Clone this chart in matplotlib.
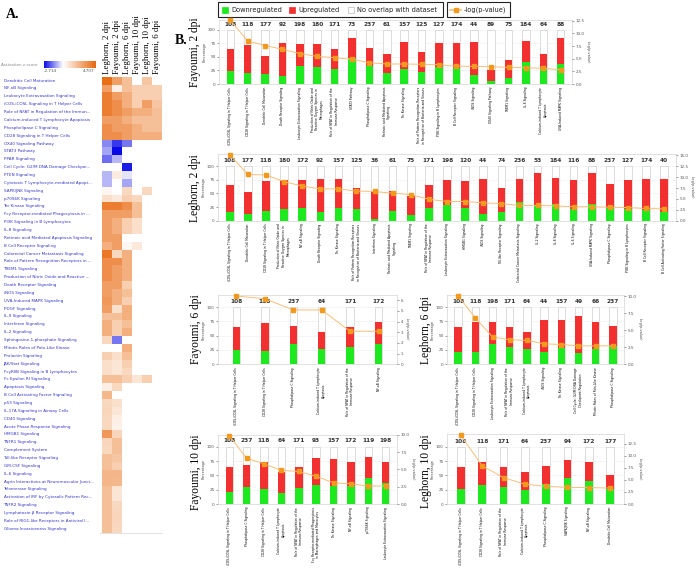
import numpy as np
import matplotlib
matplotlib.use("Agg")
import matplotlib.pyplot as plt
from matplotlib.colors import LinearSegmentedColormap, Normalize
from matplotlib.patches import Rectangle
from matplotlib import transforms

nan = np.nan

# ---------------- panel A data: activation z-scores ----------------
pathways = [
    "Dendritic Cell Maturation", "NF-κB Signaling", "Leukocyte Extravasation Signaling",
    "iCOS-iCOSL Signaling in T Helper Cells", "Role of NFAT in Regulation of the Immun...",
    "Calcium-induced T Lymphocyte Apoptosis", "Phospholipase C Signaling",
    "CD28 Signaling in T Helper Cells", "OX40 Signaling Pathway", "STAT3 Pathway",
    "PPAR Signaling", "Cell Cycle: G2/M DNA Damage Checkpoi...", "PTEN Signaling",
    "Cytotoxic T Lymphocyte-mediated Apopt...", "SAPK/JNK Signaling", "p70S6K Signaling",
    "Tec Kinase Signaling", "Fcγ Receptor-mediated Phagocytosis in ...",
    "PI3K Signaling in B Lymphocytes", "IL-8 Signaling",
    "Retinoic acid Mediated Apoptosis Signaling", "B Cell Receptor Signaling",
    "Colorectal Cancer Metastasis Signaling", "Role of Pattern Recognition Receptors in ...",
    "TREM1 Signaling", "Production of Nitric Oxide and Reactive ...",
    "Death Receptor Signaling", "iNOS Signaling", "UVA-Induced MAPK Signaling",
    "PDGF Signaling", "IL-9 Signaling", "Interferon Signaling", "IL-2 Signaling",
    "Sphingosine-1-phosphate Signaling", "Mitotic Roles of Polo-Like Kinase",
    "Prolactin Signaling", "JAK/Stat Signaling", "FcγRIIB Signaling in B Lymphocytes",
    "Fc Epsilon RI Signaling", "Apoptosis Signaling", "B Cell Activating Factor Signaling",
    "p53 Signaling", "IL-17A Signaling in Airway Cells", "CD40 Signaling",
    "Acute Phase Response Signaling", "HMGB1 Signaling", "TNFR1 Signaling",
    "Complement System", "Toll-like Receptor Signaling", "GM-CSF Signaling",
    "IL-6 Signaling", "Agrin Interactions at Neuromuscular Junct...",
    "Telomerase Signaling", "Activation of IRF by Cytosolic Pattern Rec...",
    "TNFR2 Signaling", "Lymphotoxin β Receptor Signaling",
    "Role of RIG1-like Receptors in Antiviral I...", "Glioma Invasiveness Signaling",
]
conditions = ["Leghorn, 2 dpi", "Fayoumi, 2 dpi", "Leghorn, 6 dpi",
              "Fayoumi, 10 dpi", "Leghorn, 10 dpi", "Fayoumi, 6 dpi"]

z_leg2 = [4.5, 3.0, 4.0, 4.0, 4.0, 3.0, 3.5, 3.5, -1.3, -1.0, -1.6, nan, -0.8, -0.8,
          0.3, 1.0, 4.0, 3.0, 3.0, 3.0, 3.0, 2.5, 4.2, 3.5, 3.5, 3.5, 3.0, 3.0, 3.2,
          3.0, 2.0, 2.5, 2.5, 1.2, nan, 1.5, 1.0, 1.0, 2.0, 0.5, 2.2, 1.2, 1.3, 1.2,
          1.2, 3.2, 1.3, 1.2, 2.0, 2.0, 2.3, 2.3, 2.0, 2.0, 2.0, 2.0, 2.0, 2.0]
z_fay2 = [3.0, 0.5, 3.0, 3.5, 3.5, 3.0, 3.0, 3.5, -2.2, -2.7, -0.8, nan, 0.6, nan,
          nan, 0.7, 4.0, 3.0, 2.5, 2.5, 3.0, 3.0, 1.2, 3.5, 3.0, 3.0, 3.0, 2.5, 2.5,
          1.0, 2.0, 1.5, 1.5, -1.5, nan, 1.0, 0.8, 0.8, 2.0, 1.2, nan, 1.0, 0.8, 0.5,
          0.4, 1.3, 2.0, 2.0, 1.8, 1.5, 2.3, 2.2, 0.8, 0.8, 1.2, 1.3, 1.3, 1.2]
z_leg6 = [2.0, 2.0, 2.5, 2.5, 3.0, 2.5, 3.0, 3.0, -1.5, nan, nan, -2.5, -0.3, -1.0,
          1.2, 1.5, 3.5, 3.0, 1.5, 1.5, nan, 0.3, 2.5, 2.5, 2.5, 2.5, 1.5, 2.0, 1.5,
          2.5, 2.5, 2.0, 2.5, nan, 2.5, 2.0, 1.5, 1.2, 1.5] + [nan] * 19
z_fay10 = [nan, 1.5, 1.5, 1.5, 2.5, 2.0, 2.5, 2.5] + [nan] * 7 + \
          [1.2, 2.0, 2.0, 1.0, 1.0, nan, 0.7] + [nan] * 16 + [0.8] + [nan] * 19
z_leg10 = [1.8, 1.5, 1.5, 3.0, 2.5, 2.0, 2.0, 2.5] + [nan] * 6 + [1.2] + \
          [nan] * 23 + [1.5] + [nan] * 19
z_fay6 = [nan, 1.5, 1.5, 1.8, 2.0, 2.0, 2.0, 2.5] + [nan] * 50

# ---------------- panel B data ----------------
NO_ROS = "Production of Nitric Oxide and\nReactive Oxygen Species in\nMacrophages"
NFAT = "Role of NFAT in Regulation of the\nImmune Response"
PRR = "Role of Pattern Recognition Receptors\nin Recognition of Bacteria and Viruses"
RETINOIC = "Retinoic acid Mediated Apoptosis\nSignaling"
CALCIUM = "Calcium-induced T Lymphocyte\nApoptosis"
CELLCYCLE = "Cell Cycle: G2/M DNA Damage\nCheckpoint Regulation"
FCGR = "Fcγ Receptor-mediated Phagocytosis\nin Macrophages and Monocytes"
ICOS = "iCOS-iCOSL Signaling in T Helper Cells"
CD28 = "CD28 Signaling in T Helper Cells"

fay2_names = [ICOS, CD28, "Dendritic Cell Maturation", "Death Receptor Signaling",
              "Leukocyte Extravasation Signaling", NO_ROS, NFAT, "STAT3 Pathway",
              "Phospholipase C Signaling", RETINOIC, "Tec Kinase Signaling", PRR,
              "PI3K Signaling in B Lymphocytes", "B Cell Receptor Signaling",
              "iNOS Signaling", "OX40 Signaling Pathway", "TREM1 Signaling",
              "IL-8 Signaling", CALCIUM, "UVA-Induced MAPK Signaling"]
fay2_counts = [108, 118, 177, 92, 198, 180, 171, 73, 237, 61, 157, 125, 127, 174, 44,
               89, 75, 184, 64, 88]
fay2_down = [23.5, 20, 18.5, 15, 34, 31, 28, 47.5, 34, 20, 27, 22, 31, 30, 16, 5, 12,
             41, 27, 37]
fay2_up = [41.5, 52, 33.5, 61, 40, 42.5, 37, 38.5, 33, 36, 51, 37, 44, 46, 61, 21, 33,
           39, 29, 49]
fay2_logp = [12.6, 8.5, 7.6, 6.85, 6.0, 5.45, 5.2, 4.87, 4.2, 3.95, 3.95, 3.9, 3.8,
             3.5, 3.5, 3.4, 3.3, 3.2, 3.1, 2.8]

leg2_names = [ICOS, "Dendritic Cell Maturation", CD28, NO_ROS, "NF-κB Signaling",
              "Death Receptor Signaling", "Tec Kinase Signaling", PRR,
              "Interferon Signaling", RETINOIC, "TREM1 Signaling", NFAT,
              "Leukocyte Extravasation Signaling", "HMGB1 Signaling", "iNOS Signaling",
              "Toll-like Receptor Signaling", "Colorectal Cancer Metastasis Signaling",
              "IL-2 Signaling", "IL-8 Signaling", "IL-6 Signaling",
              "UVA-Induced MAPK Signaling", "Phospholipase C Signaling",
              "PI3K Signaling in B Lymphocytes", "B Cell Receptor Signaling",
              "B Cell Activating Factor Signaling"]
leg2_counts = [108, 177, 118, 180, 172, 92, 157, 125, 36, 61, 75, 171, 198, 120, 44,
               74, 236, 53, 184, 116, 88, 237, 127, 174, 40]
leg2_down = [16.5, 12, 18, 21, 24, 16, 24, 21, 3, 18, 10, 24, 28, 24, 12, 15, 34, 28,
             30, 21, 30, 23, 21, 19, 15]
leg2_up = [48.5, 40, 54, 53, 50, 60, 53, 39, 52, 36, 36, 41, 46, 48, 65, 44, 42, 59,
           49, 53, 57, 44, 53, 57, 62]
leg2_logp = [15.1, 10.6, 10.5, 8.95, 7.96, 7.3, 7.3, 6.8, 6.7, 6.3, 6.0, 4.9, 4.4,
             4.4, 4.1, 3.9, 3.5, 3.5, 3.4, 3.2, 3.2, 3.1, 3.0, 2.8, 2.7]

fay6_names = [ICOS, CD28, "Phospholipase C Signaling", CALCIUM, NFAT, "NF-κB Signaling"]
fay6_counts = [108, 118, 237, 64, 171, 172]
fay6_down = [25, 22.5, 35, 27, 30, 35]
fay6_up = [40, 49.5, 32, 30, 35, 38]
fay6_logp = [6.4, 6.15, 5.1, 5.1, 3.1, 3.1]

leg6_names = [ICOS, CD28, "Leukocyte Extravasation Signaling", NFAT, CALCIUM,
              "iNOS Signaling", "Tec Kinase Signaling", CELLCYCLE,
              "Mitotic Roles of Polo-Like Kinase", "Phospholipase C Signaling"]
leg6_counts = [108, 118, 198, 171, 64, 44, 157, 49, 66, 237]
leg6_down = [21.5, 21, 35, 30, 26, 21, 28.5, 19, 27, 32.5]
leg6_up = [43.5, 52, 39, 36, 30, 56, 49.5, 65, 47, 34.5]
leg6_logp = [10.0, 6.8, 4.0, 3.6, 3.5, 3.0, 2.9, 2.7, 2.7, 2.7]

fay10_names = [ICOS, "Phospholipase C Signaling", CD28, CALCIUM, NFAT, FCGR,
               "Tec Kinase Signaling", "NF-κB Signaling", "p70S6K Signaling",
               "Leukocyte Extravasation Signaling"]
fay10_counts = [108, 237, 118, 64, 171, 93, 157, 172, 119, 198]
fay10_down = [21, 30, 27, 20, 28, 33, 32, 32, 45, 36]
fay10_up = [43.5, 37.5, 45.5, 36, 37, 48, 46, 41, 37, 38]
fay10_logp = [9.85, 6.6, 5.8, 4.85, 4.7, 4.0, 3.05, 2.9, 2.6, 2.6]

leg10_names = [ICOS, CD28, NFAT, CALCIUM, "Phospholipase C Signaling",
               "SAPK/JNK Signaling", "NF-κB Signaling", "Dendritic Cell Maturation"]
leg10_counts = [108, 118, 171, 64, 237, 94, 172, 177]
leg10_down = [26, 33, 30, 24.5, 34.5, 46, 41, 26]
leg10_up = [39, 40, 35.5, 31.5, 32.5, 32, 32, 25]
leg10_logp = [14.2, 7.9, 5.45, 4.1, 3.65, 3.45, 3.4, 3.3]

GREEN = "#1ee81e"
RED = "#f23030"
ORANGE = "#f39a1e"
LINE = "#f7c07a"
SERIF = "Liberation Serif"

W, H = 696, 572
fig = plt.figure(figsize=(W / 100, H / 100), dpi=100)


def px_axes(l, t, r, b):
    return fig.add_axes([l / W, 1 - b / H, (r - l) / W, (b - t) / H])


# overlay in pixel coordinates for labels and legend
ov = fig.add_axes([0, 0, 1, 1])
ov.set_xlim(0, W)
ov.set_ylim(H, 0)
ov.axis("off")

# ---------------- panel A ----------------
zmin, zmax = -2.714, 4.707
cmap = LinearSegmentedColormap.from_list(
    "ipa", [(0, "#0a0ae6"), (-zmin / (zmax - zmin), "#ffffff"), (1, "#e8680c")])
norm = Normalize(zmin, zmax)

Z = np.array([z_leg2, z_fay2, z_leg6, z_fay10, z_leg10, z_fay6]).T
axh = px_axes(102, 76.7, 162, 532.7)
axh.pcolormesh(np.arange(7), np.arange(len(pathways) + 1), np.ma.masked_invalid(Z),
               cmap=cmap, norm=norm)
axh.set_xlim(0, 6)
axh.set_ylim(len(pathways), 0)
axh.axis("off")
axh.plot([-0.2, 6], [len(pathways), len(pathways)], color="#dddddd", lw=0.6,
         clip_on=False)
tr = transforms.blended_transform_factory(fig.transFigure, axh.transData)
for i, name in enumerate(pathways):
    axh.text(3.5 / W, i + 0.5, name, transform=tr, fontsize=3.0, color="#3535c8",
             ha="left", va="center")
for j, cond in enumerate(conditions):
    axh.text(j + 0.5, -0.35, cond, rotation=90, ha="center", va="bottom",
             family=SERIF, fontsize=6.4)

axc = px_axes(44, 61, 96, 68)
axc.imshow(np.linspace(zmin, zmax, 256)[None, :], aspect="auto", cmap=cmap, norm=norm)
axc.axis("off")
ov.text(1, 64.5, "Activation z-score", fontsize=3.0, color="#888888", ha="left",
        va="center")
ov.text(50, 71.5, "-2.714", fontsize=3.0, color="#555555", ha="center", va="center")
ov.text(89, 71.5, "4.707", fontsize=3.0, color="#555555", ha="center", va="center")
ov.text(6, 14, "A.", family=SERIF, weight="bold", fontsize=10, ha="left", va="center")

# ---------------- panel B ----------------
ov.text(175, 41, "B.", family=SERIF, weight="bold", fontsize=10, ha="left",
        va="center")

# legend
ov.add_patch(Rectangle((217.5, 2), 225.5, 15, fill=False, ec="#222222", lw=0.8))
ov.add_patch(Rectangle((446.5, 2), 63.5, 15, fill=False, ec="#222222", lw=0.8))
for x0, fc, txt in [(222, GREEN, "Downregulated"), (289, RED, "Upregulated"),
                    (348, "white", "No overlap with dataset")]:
    ov.add_patch(Rectangle((x0, 6.5), 6, 6, fc=fc, ec="#bbbbbb" if fc == "white" else fc,
                           lw=0.5))
    ov.text(x0 + 9, 9.8, txt, fontsize=4.8, ha="left", va="center", color="#222222")
ov.plot([450, 461], [9.5, 9.5], color=LINE, lw=1.2)
ov.plot([455.5], [9.5], "s", color=ORANGE, ms=3)
ov.text(463.5, 9.8, "-log(p-value)", fontsize=4.8, ha="left", va="center",
        color="#222222")


def pathway_panel(box, title, title_xy, names, counts, down, up, logp, rtop, rticks,
                  ltop=121):
    l, t, r, b = box
    n = len(names)
    x = np.arange(n)
    slot = (r - l) / (n + 0.3)
    w = 7.5 / slot
    ax = px_axes(l, t, r, b)
    ax.set_axisbelow(True)
    ax.yaxis.grid(True, color="#eeeeee", lw=0.4)
    ax.bar(x, 100, w, color="white", edgecolor="#cfcfcf", lw=0.5, zorder=2)
    ax.bar(x, down, w, color=GREEN, lw=0, zorder=3)
    ax.bar(x, up, w, bottom=down, color=RED, lw=0, zorder=3)
    for i, c in enumerate(counts):
        ax.text(i, 110, str(c), ha="center", va="center", fontsize=4.2,
                weight="bold", color="#333333")
    ax.set_xlim(-0.65, n - 0.35)
    ax.set_ylim(0, ltop)
    ax.set_yticks([0, 25, 50, 75, 100])
    ax.set_xticks(x)
    ax.set_xticklabels(names, rotation=90, fontsize=2.2, ha="center", va="top",
                       multialignment="center")
    ax.tick_params(axis="x", length=0, pad=2)
    ax.tick_params(axis="y", labelsize=3, colors="#555555", length=1.5, width=0.4,
                   pad=1)
    ax.set_ylabel("Percentage", fontsize=2.5, labelpad=0.5, color="#444444")
    for s in ax.spines.values():
        s.set_color("#d4d4d4")
        s.set_linewidth(0.5)

    ax2 = ax.twinx()
    ax2.plot(x, logp, color=LINE, lw=0.7, zorder=5, clip_on=False)
    ax2.plot(x, logp, "s", color=ORANGE, ms=2.6, zorder=6, clip_on=False)
    ax2.set_ylim(0, rtop)
    ax2.set_yticks(rticks)
    ax2.yaxis.set_major_formatter(matplotlib.ticker.FormatStrFormatter(
        "%.1f" if any(v % 1 for v in rticks) or max(rticks) > 6 else "%d"))
    ax2.tick_params(axis="y", labelsize=3, colors="#555555", length=1.5, width=0.4,
                    pad=1)
    ax2.set_ylabel("-log(p-value)", fontsize=2.5, rotation=270, va="bottom",
                   labelpad=1, color="#444444")
    for s in ax2.spines.values():
        s.set_visible(False)

    ov.text(title_xy[0], title_xy[1], title, rotation=90, ha="center", va="center",
            family=SERIF, fontsize=8.3)


pathway_panel((219, 20, 572, 84), "Fayoumi, 2 dpi", (195, 52), fay2_names,
              fay2_counts, fay2_down, fay2_up, fay2_logp, 12.64,
              [0, 2.5, 5, 7.5, 10, 12.5], ltop=118.5)
pathway_panel((218, 154, 676, 220.7), "Leghorn, 2 dpi", (195, 188), leg2_names,
              leg2_counts, leg2_down, leg2_up, leg2_logp, 15.3,
              [0, 2.5, 5, 7.5, 10, 12.5, 15], ltop=122)
pathway_panel((218, 295, 397, 364.3), "Fayoumi, 6 dpi", (195.5, 329), fay6_names,
              fay6_counts, fay6_down, fay6_up, fay6_logp, 6.5,
              [0, 1, 2, 3, 4, 5, 6])
pathway_panel((447, 295, 624, 364.3), "Leghorn, 6 dpi", (425.5, 330), leg6_names,
              leg6_counts, leg6_down, leg6_up, leg6_logp, 10.15,
              [0, 2.5, 5, 7.5, 10])
pathway_panel((218, 434.7, 397, 504), "Fayoumi, 10 dpi", (195.5, 472), fay10_names,
              fay10_counts, fay10_down, fay10_up, fay10_logp, 10.0,
              [0, 2.5, 5, 7.5, 10])
pathway_panel((447, 434, 624, 504), "Leghorn, 10 dpi", (425.5, 471), leg10_names,
              leg10_counts, leg10_down, leg10_up, leg10_logp, 14.5,
              [0, 2.5, 5, 7.5, 10, 12.5], ltop=122.8)

fig.savefig("out.png", dpi=100)
